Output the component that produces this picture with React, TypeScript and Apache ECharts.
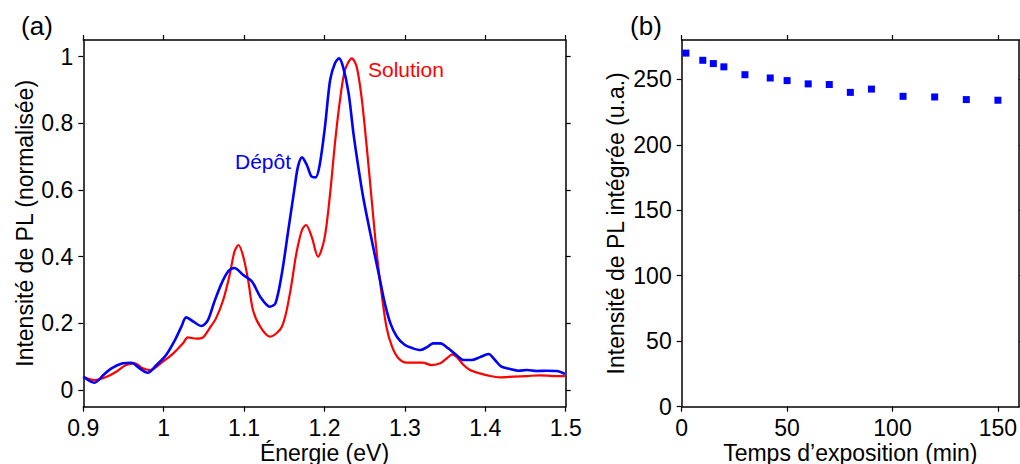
import React, { useEffect, useRef } from "react";
import * as echarts from "echarts";

// Panel (a): PL spectra (normalised)
const solutionEnergy = [0.900, 0.914, 0.929, 0.941, 0.953, 0.964, 0.974, 0.983, 0.999, 1.012, 1.024, 1.030, 1.041, 1.049, 1.057, 1.065, 1.074, 1.082, 1.088, 1.093, 1.099, 1.105, 1.111, 1.120, 1.132, 1.147, 1.157, 1.165, 1.172, 1.177, 1.184, 1.192, 1.200, 1.207, 1.213, 1.219, 1.2255, 1.234, 1.240, 1.246, 1.2525, 1.2587, 1.265, 1.271, 1.277, 1.284, 1.292, 1.302, 1.315, 1.322, 1.333, 1.344, 1.352, 1.359, 1.366, 1.373, 1.381, 1.393, 1.406, 1.418, 1.435, 1.452, 1.468, 1.485, 1.499];
const solutionValues = [0.040, 0.030, 0.040, 0.055, 0.075, 0.080, 0.065, 0.060, 0.085, 0.110, 0.140, 0.158, 0.154, 0.158, 0.185, 0.215, 0.270, 0.345, 0.415, 0.435, 0.400, 0.330, 0.240, 0.190, 0.160, 0.190, 0.290, 0.410, 0.480, 0.495, 0.460, 0.400, 0.455, 0.590, 0.740, 0.865, 0.960, 0.995, 0.970, 0.880, 0.730, 0.570, 0.410, 0.290, 0.190, 0.130, 0.095, 0.082, 0.082, 0.082, 0.075, 0.080, 0.095, 0.107, 0.095, 0.075, 0.060, 0.050, 0.042, 0.038, 0.040, 0.042, 0.044, 0.042, 0.042];

const depotEnergy = [0.900, 0.914, 0.925, 0.935, 0.949, 0.960, 0.970, 0.980, 0.991, 1.003, 1.014, 1.022, 1.028, 1.037, 1.047, 1.055, 1.063, 1.072, 1.080, 1.088, 1.099, 1.110, 1.120, 1.132, 1.139, 1.147, 1.155, 1.163, 1.167, 1.172, 1.178, 1.184, 1.189, 1.194, 1.2006, 1.207, 1.213, 1.218, 1.223, 1.230, 1.236, 1.242, 1.248, 1.257, 1.263, 1.269, 1.275, 1.282, 1.290, 1.300, 1.310, 1.319, 1.327, 1.335, 1.344, 1.354, 1.364, 1.373, 1.383, 1.393, 1.404, 1.412, 1.420, 1.431, 1.441, 1.452, 1.464, 1.476, 1.489, 1.499];
const depotValues = [0.040, 0.022, 0.045, 0.065, 0.080, 0.082, 0.065, 0.052, 0.075, 0.105, 0.150, 0.190, 0.218, 0.205, 0.192, 0.210, 0.265, 0.320, 0.355, 0.366, 0.345, 0.325, 0.280, 0.250, 0.260, 0.350, 0.480, 0.610, 0.670, 0.698, 0.675, 0.640, 0.638, 0.675, 0.790, 0.930, 0.980, 0.995, 0.970, 0.890, 0.770, 0.670, 0.580, 0.470, 0.400, 0.330, 0.260, 0.200, 0.160, 0.135, 0.125, 0.120, 0.128, 0.140, 0.140, 0.125, 0.105, 0.090, 0.090, 0.098, 0.108, 0.090, 0.070, 0.063, 0.058, 0.060, 0.057, 0.058, 0.057, 0.048];

const energyTicks = [0.9, 1.0, 1.1, 1.2, 1.3, 1.4, 1.5];
const normTicks = [0, 0.2, 0.4, 0.6, 0.8, 1];

// Panel (b): integrated PL vs exposure time
const exposureTime = [2, 10, 15, 20, 30, 42, 50, 60, 70, 80, 90, 105, 120, 135, 150];
const integratedPL = [270, 264.5, 262, 259.5, 253.5, 251, 249, 246.5, 246, 240, 242.5, 237, 236.5, 234.5, 234];
const timeTicks = [0, 50, 100, 150];
const plTicks = [0, 50, 100, 150, 200, 250];

const FONT = "'Liberation Sans', Arial, Helvetica, sans-serif";
const BLUE = "#0000ff";
const RED = "#ff0000";

function valAxis(extra: any) {
  return {
    type: "value",
    splitLine: { show: false },
    axisLine: { show: true, onZero: false, lineStyle: { color: "#000", width: 1.5 } },
    axisTick: { show: true, inside: false, length: 5, lineStyle: { color: "#000", width: 1.2 } },
    axisLabel: { show: true, color: "#000", fontSize: 23, fontFamily: FONT, margin: 10 },
    nameTextStyle: { color: "#000", fontSize: 23, fontFamily: FONT },
    ...extra,
  };
}

export default function App() {
  const ref = useRef<HTMLDivElement>(null);
  useEffect(() => {
    if (!ref.current) return;
    const chart = echarts.init(ref.current, null, { renderer: "svg" });
    const solData = solutionEnergy.map((e, i) => [e, solutionValues[i]]);
    const depData = depotEnergy.map((e, i) => [e, depotValues[i]]);
    const ptData = exposureTime.map((t, i) => [t, integratedPL[i]]);

    const aX = { min: 0.9, max: 1.5, interval: 0.1 };
    const aY = { min: -0.05, max: 1.05, interval: 0.05 };
    const bX = { min: 0, max: 160, interval: 10 };
    const bY = { min: 0, max: 280, interval: 10 };

    chart.setOption({
      animation: false,
      backgroundColor: "#fff",
      textStyle: { fontFamily: FONT },
      grid: [
        { left: 83.3, right: 454.3, top: 40, bottom: 57.3, outerBoundsMode: "none", containLabel: false },
        { left: 681.7, right: 1, top: 40, bottom: 57.3, outerBoundsMode: "none", containLabel: false },
      ],
      xAxis: [
        valAxis({
          gridIndex: 0, position: "bottom", ...aX,
          name: "Énergie (eV)", nameLocation: "middle", nameGap: 35, nameMoveOverlap: false,
          axisTick: { show: true, length: 5, customValues: energyTicks, lineStyle: { color: "#000", width: 1.2 } },
          axisLabel: { color: "#000", fontSize: 23, fontFamily: FONT, margin: 10, customValues: energyTicks,
            formatter: (v: number) => String(Math.round(v * 10) / 10) },
        }),
        valAxis({
          gridIndex: 0, position: "top", ...aX,
          axisTick: { show: true, length: 5, customValues: energyTicks, lineStyle: { color: "#000", width: 1.2 } },
          axisLabel: { show: false },
        }),
        valAxis({
          gridIndex: 1, position: "bottom", ...bX,
          name: "Temps d’exposition (min)", nameLocation: "middle", nameGap: 35, nameMoveOverlap: false,
          axisTick: { show: true, length: 5, customValues: timeTicks, lineStyle: { color: "#000", width: 1.2 } },
          axisLabel: { color: "#000", fontSize: 23, fontFamily: FONT, margin: 10, customValues: timeTicks },
        }),
        valAxis({
          gridIndex: 1, position: "top", ...bX,
          axisTick: { show: true, length: 5, customValues: timeTicks, lineStyle: { color: "#000", width: 1.2 } },
          axisLabel: { show: false },
        }),
      ],
      yAxis: [
        valAxis({
          gridIndex: 0, position: "left", ...aY,
          name: "Intensité de PL (normalisée)", nameLocation: "middle", nameGap: 47,
          axisTick: { show: true, length: 5, customValues: normTicks, lineStyle: { color: "#000", width: 1.2 } },
          axisLabel: { color: "#000", fontSize: 23, fontFamily: FONT, margin: 10, customValues: normTicks,
            formatter: (v: number) => String(Math.round(v * 10) / 10) },
        }),
        valAxis({
          gridIndex: 0, position: "right", ...aY,
          axisTick: { show: true, length: 5, customValues: normTicks, lineStyle: { color: "#000", width: 1.2 } },
          axisLabel: { show: false },
        }),
        valAxis({
          gridIndex: 1, position: "left", ...bY,
          name: "Intensité de PL intégrée (u.a.)", nameLocation: "middle", nameGap: 54,
          axisTick: { show: true, length: 5, customValues: plTicks, lineStyle: { color: "#000", width: 1.2 } },
          axisLabel: { color: "#000", fontSize: 23, fontFamily: FONT, margin: 10, customValues: plTicks },
        }),
        valAxis({
          gridIndex: 1, position: "right", ...bY,
          axisTick: { show: true, length: 5, customValues: plTicks, lineStyle: { color: "#000", width: 1.2 } },
          axisLabel: { show: false },
        }),
      ],
      series: [
        {
          name: "Solution", type: "line", xAxisIndex: 0, yAxisIndex: 0, data: solData,
          showSymbol: false, smooth: 0.3, lineStyle: { color: RED, width: 2.2 }, itemStyle: { color: RED },
        },
        {
          name: "Dépôt", type: "line", xAxisIndex: 0, yAxisIndex: 0, data: depData,
          showSymbol: false, smooth: 0.3, lineStyle: { color: BLUE, width: 2.6 }, itemStyle: { color: BLUE },
        },
        {
          name: "PL intégrée", type: "scatter", xAxisIndex: 2, yAxisIndex: 2, data: ptData,
          symbol: "rect", symbolSize: 7, itemStyle: { color: BLUE, opacity: 1 },
        },
      ],
      graphic: [
        { type: "text", x: 37, y: 26, style: { text: "(a)", font: `26px ${FONT}`, fill: "#000", textAlign: "center", textVerticalAlign: "middle" } },
        { type: "text", x: 646, y: 26, style: { text: "(b)", font: `26px ${FONT}`, fill: "#000", textAlign: "center", textVerticalAlign: "middle" } },
        { type: "text", x: 235, y: 161, style: { text: "Dépôt", font: `21px ${FONT}`, fill: BLUE, textAlign: "left", textVerticalAlign: "middle" } },
        { type: "text", x: 368, y: 69, style: { text: "Solution", font: `21px ${FONT}`, fill: RED, textAlign: "left", textVerticalAlign: "middle" } },
      ],
    });
    return () => chart.dispose();
  }, []);
  return <div ref={ref} style={{ position: "absolute", left: 0, top: 0, width: 1020, height: 464 }} />;
}
